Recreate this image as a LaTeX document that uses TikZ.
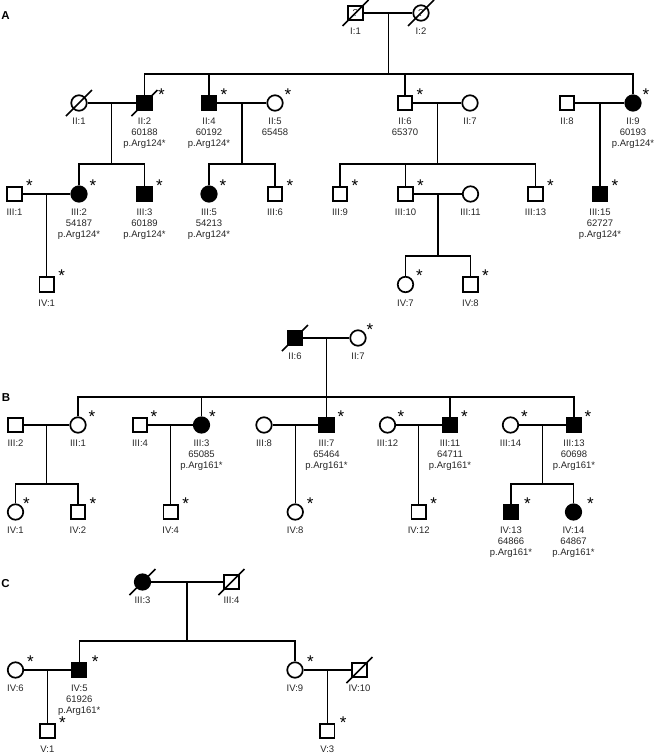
\documentclass[tikz,border=0pt]{standalone}
\usepackage{fontspec}
\setmainfont{Liberation Sans}
\usetikzlibrary{calc}
\newcommand\plab[2]{\node[lab] (#1l) at ([yshift=-14.8pt]#1.center) {#2};}
\newcommand\pstar[2][15pt]{\node[astk] (#2s) at ([shift={(#1,2.6pt)}]#2.center) {*};}
\newcommand\pdec[1]{\draw[dec] ([shift={(-13pt,-13pt)}]#1.center) -- ([shift={(13pt,13pt)}]#1.center);}
\begin{document}
\begin{tikzpicture}[x=1pt,y=-1pt,
  ln/.style={line width=1.2pt},
  per/.style={draw, line width=1.7pt, inner sep=0pt, minimum size=14.5pt, fill=white},
  sq/.style={per, rectangle},
  ci/.style={per, circle, minimum size=15.5pt},
  aff/.style={fill=black},
  qm/.style={inner sep=0pt, font=\fontsize{10}{10}\selectfont, text=black!80},
  lab/.style={anchor=north, align=center, inner sep=0pt, font=\fontsize{9.5}{11}\selectfont, text=black!85},
  astk/.style={anchor=base, inner sep=0pt, font=\fontsize{17}{17}\selectfont},
  dec/.style={line width=1.5pt},
  panel/.style={font=\bfseries\fontsize{11.5}{12}\selectfont, inner sep=0pt},
]
\useasboundingbox (0,0) rectangle (655,755);

% ================= A =================
\node[panel] (pA) at (5.5,16) {A};
\node[sq] (aI1) at (355.5,13) {};
\node[ci] (aI2) at (421,13) {};
\node[ci] (aII1) at (79,103) {};
\node[sq,aff] (aII2) at (144.5,103) {};
\node[sq,aff] (aII4) at (209,103) {};
\node[ci] (aII5) at (275,103) {};
\node[sq] (aII6) at (405,103) {};
\node[ci] (aII7) at (470,103) {};
\node[sq] (aII8) at (567,103) {};
\node[ci,aff] (aII9) at (633,103) {};
\node[sq] (aIII1) at (14.5,194) {};
\node[ci,aff] (aIII2) at (79,194) {};
\node[sq,aff] (aIII3) at (144.5,194) {};
\node[ci,aff] (aIII5) at (209,194) {};
\node[sq] (aIII6) at (275,194) {};
\node[sq] (aIII9) at (340,194) {};
\node[sq] (aIII10) at (405.5,194) {};
\node[ci] (aIII11) at (470.5,194) {};
\node[sq] (aIII13) at (535.5,194) {};
\node[sq,aff] (aIII15) at (600,194) {};
\node[sq] (aIV1) at (46.75,284.5) {};
\node[ci] (aIV7) at (405.5,284.5) {};
\node[sq] (aIV8) at (470.5,284.5) {};

\coordinate (saII) at (0,74);
\coordinate (saIII) at (0,164);
\coordinate (saIV) at (0,256);
\draw[ln] (aI1) -- (aI2);
\coordinate (maI) at ($(aI1)!0.5!(aI2)$);
\draw[ln] (maI) -- (maI |- saII);
\draw[ln] (aII2.north) |- (aII9 |- saII) -- (aII9.north);
\draw[ln] (aII4.north) -- (aII4 |- saII);
\draw[ln] (aII6.north) -- (aII6 |- saII);
\draw[ln] (aII1) -- (aII2);
\draw[ln] (aII4) -- (aII5);
\draw[ln] (aII6) -- (aII7);
\draw[ln] (aII8) -- (aII9);
\coordinate (maII12) at ($(aII1)!0.5!(aII2)$);
\coordinate (maII45) at ($(aII4)!0.5!(aII5)$);
\coordinate (maII67) at ($(aII6)!0.5!(aII7)$);
\coordinate (maII89) at ($(aII8)!0.5!(aII9)$);
\draw[ln] (maII12) -- (maII12 |- saIII);
\draw[ln] (aIII2.north) |- (aIII3 |- saIII) -- (aIII3.north);
\draw[ln] (maII45) -- (maII45 |- saIII);
\draw[ln] (aIII5.north) |- (aIII6 |- saIII) -- (aIII6.north);
\draw[ln] (maII67) -- (maII67 |- saIII);
\draw[ln] (aIII9.north) |- (aIII13 |- saIII) -- (aIII13.north);
\draw[ln] (aIII10.north) -- (aIII10 |- saIII);
\draw[ln] (maII89) -- (aIII15.north);
\draw[ln] (aIII1) -- (aIII2);
\draw[ln] (aIII10) -- (aIII11);
\coordinate (maIII12) at ($(aIII1)!0.5!(aIII2)$);
\coordinate (maIII1011) at ($(aIII10)!0.5!(aIII11)$);
\draw[ln] (maIII12) -- (aIV1.north);
\draw[ln] (maIII1011) -- (maIII1011 |- saIV);
\draw[ln] (aIV7.north) |- (aIV8 |- saIV) -- (aIV8.north);

\node[qm] (aI1q) at (aI1.center) {?};
\node[qm] (aI2q) at (aI2.center) {?};
\pdec{aI1}\pdec{aI2}\pdec{aII1}\pdec{aII2}

\plab{aI1}{I:1}
\plab{aI2}{I:2}
\plab{aII1}{II:1}
\plab{aII2}{II:2\\60188\\p.Arg124*}
\plab{aII4}{II:4\\60192\\p.Arg124*}
\plab{aII5}{II:5\\65458}
\plab{aII6}{II:6\\65370}
\plab{aII7}{II:7}
\plab{aII8}{II:8}
\plab{aII9}{II:9\\60193\\p.Arg124*}
\plab{aIII1}{III:1}
\plab{aIII2}{III:2\\54187\\p.Arg124*}
\plab{aIII3}{III:3\\60189\\p.Arg124*}
\plab{aIII5}{III:5\\54213\\p.Arg124*}
\plab{aIII6}{III:6}
\plab{aIII9}{III:9}
\plab{aIII10}{III:10}
\plab{aIII11}{III:11}
\plab{aIII13}{III:13}
\plab{aIII15}{III:15\\62727\\p.Arg124*}
\plab{aIV1}{IV:1}
\plab{aIV7}{IV:7}
\plab{aIV8}{IV:8}

\pstar[17pt]{aII2}\pstar{aII4}\pstar[13pt]{aII5}\pstar{aII6}\pstar[13pt]{aII9}
\pstar{aIII1}\pstar[14pt]{aIII2}\pstar{aIII3}\pstar[14pt]{aIII5}\pstar{aIII6}
\pstar{aIII9}\pstar{aIII10}\pstar{aIII13}\pstar{aIII15}
\pstar{aIV1}\pstar[14pt]{aIV7}\pstar{aIV8}

% ================= B =================
\node[panel] (pB) at (6,398) {B};
\node[sq,aff] (bII6) at (295,338) {};
\node[ci] (bII7) at (358,338) {};
\node[sq] (bIII2) at (15.5,425) {};
\node[ci] (bIII1) at (78,425) {};
\node[sq] (bIII4) at (140,425) {};
\node[ci,aff] (bIII3) at (201.5,425) {};
\node[ci] (bIII8) at (264,425) {};
\node[sq,aff] (bIII7) at (326.5,425) {};
\node[ci] (bIII12) at (387.5,425) {};
\node[sq,aff] (bIII11) at (450,425) {};
\node[ci] (bIII14) at (510.5,425) {};
\node[sq,aff] (bIII13) at (574,425) {};
\node[ci] (bIV1) at (15.5,512) {};
\node[sq] (bIV2) at (78,512) {};
\node[sq] (bIV4) at (170.75,512) {};
\node[ci] (bIV8) at (295.25,512) {};
\node[sq] (bIV12) at (418.75,512) {};
\node[sq,aff] (bIV13) at (511,512) {};
\node[ci,aff] (bIV14) at (573.5,512) {};

\coordinate (sbIII) at (0,397);
\coordinate (sbIV) at (0,484);
\draw[ln] (bII6) -- (bII7);
\coordinate (mbII) at ($(bII6)!0.5!(bII7)$);
\draw[ln] (mbII) -- (mbII |- sbIII);
\draw[ln] (bIII1.north) |- (bIII13 |- sbIII) -- (bIII13.north);
\draw[ln] (bIII3.north) -- (bIII3 |- sbIII);
\draw[ln] (bIII7.north) -- (bIII7 |- sbIII);
\draw[ln] (bIII11.north) -- (bIII11 |- sbIII);
\draw[ln] (bIII2) -- (bIII1);
\draw[ln] (bIII4) -- (bIII3);
\draw[ln] (bIII8) -- (bIII7);
\draw[ln] (bIII12) -- (bIII11);
\draw[ln] (bIII14) -- (bIII13);
\coordinate (mbIII21) at ($(bIII2)!0.5!(bIII1)$);
\coordinate (mbIII43) at ($(bIII4)!0.5!(bIII3)$);
\coordinate (mbIII87) at ($(bIII8)!0.5!(bIII7)$);
\coordinate (mbIII1211) at ($(bIII12)!0.5!(bIII11)$);
\coordinate (mbIII1413) at ($(bIII14)!0.5!(bIII13)$);
\draw[ln] (mbIII21) -- (mbIII21 |- sbIV);
\draw[ln] (bIV1.north) |- (bIV2 |- sbIV) -- (bIV2.north);
\draw[ln] (mbIII43) -- (bIV4.north);
\draw[ln] (mbIII87) -- (bIV8.north);
\draw[ln] (mbIII1211) -- (bIV12.north);
\draw[ln] (mbIII1413) -- (mbIII1413 |- sbIV);
\draw[ln] (bIV13.north) |- (bIV14 |- sbIV) -- (bIV14.north);

\pdec{bII6}

\plab{bII6}{II:6}
\plab{bII7}{II:7}
\plab{bIII2}{III:2}
\plab{bIII1}{III:1}
\plab{bIII4}{III:4}
\plab{bIII3}{III:3\\65085\\p.Arg161*}
\plab{bIII8}{III:8}
\plab{bIII7}{III:7\\65464\\p.Arg161*}
\plab{bIII12}{III:12}
\plab{bIII11}{III:11\\64711\\p.Arg161*}
\plab{bIII14}{III:14}
\plab{bIII13}{III:13\\60698\\p.Arg161*}
\plab{bIV1}{IV:1}
\plab{bIV2}{IV:2}
\plab{bIV4}{IV:4}
\plab{bIV8}{IV:8}
\plab{bIV12}{IV:12}
\plab{bIV13}{IV:13\\64866\\p.Arg161*}
\plab{bIV14}{IV:14\\64867\\p.Arg161*}

\pstar[12pt]{bII7}
\pstar[14pt]{bIII1}\pstar[14pt]{bIII4}\pstar[11pt]{bIII3}\pstar[14.5pt]{bIII7}
\pstar[13.5pt]{bIII12}\pstar[14.5pt]{bIII11}\pstar[14pt]{bIII14}\pstar[14pt]{bIII13}
\pstar[11pt]{bIV1}\pstar{bIV2}\pstar{bIV4}\pstar{bIV8}\pstar{bIV12}
\pstar[16.5pt]{bIV13}\pstar[17pt]{bIV14}

% ================= C =================
\node[panel] (pC) at (5.5,584) {C};
\node[ci,aff] (cIII3) at (142.5,582) {};
\node[sq] (cIII4) at (231.5,582) {};
\node[ci] (cIV6) at (15.5,670) {};
\node[sq,aff] (cIV5) at (79.3,670) {};
\node[ci] (cIV9) at (295,670) {};
\node[sq] (cIV10) at (359.5,670) {};
\node[sq] (cV1) at (47.4,731) {};
\node[sq] (cV3) at (327.25,731) {};

\coordinate (scIV) at (0,641);
\draw[ln] (cIII3) -- (cIII4);
\coordinate (mcIII) at ($(cIII3)!0.5!(cIII4)$);
\draw[ln] (mcIII) -- (mcIII |- scIV);
\draw[ln] (cIV5.north) |- (cIV9 |- scIV) -- (cIV9.north);
\draw[ln] (cIV6) -- (cIV5);
\draw[ln] (cIV9) -- (cIV10);
\coordinate (mcIV65) at ($(cIV6)!0.5!(cIV5)$);
\coordinate (mcIV910) at ($(cIV9)!0.5!(cIV10)$);
\draw[ln] (mcIV65) -- (cV1.north);
\draw[ln] (mcIV910) -- (cV3.north);

\pdec{cIII3}\pdec{cIII4}\pdec{cIV10}

\plab{cIII3}{III:3}
\plab{cIII4}{III:4}
\plab{cIV6}{IV:6}
\plab{cIV5}{IV:5\\61926\\p.Arg161*}
\plab{cIV9}{IV:9}
\plab{cIV10}{IV:10}
\plab{cV1}{V:1}
\plab{cV3}{V:3}

\pstar{cIV6}\pstar[16pt]{cIV5}\pstar[15.5pt]{cIV9}\pstar{cV1}\pstar[16pt]{cV3}
\end{tikzpicture}
\end{document}
